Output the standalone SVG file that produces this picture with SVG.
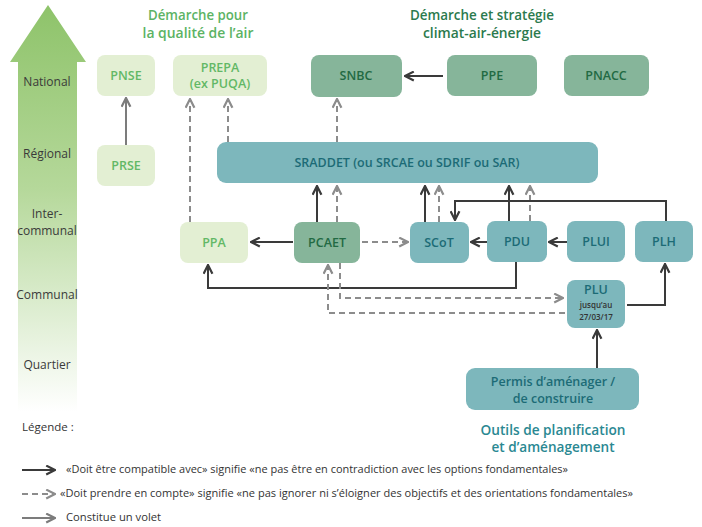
<svg xmlns="http://www.w3.org/2000/svg" width="702" height="527" viewBox="0 0 702 527">
<style>
text{font-family:"Open Sans","Liberation Sans",sans-serif;}
.lvl{font-size:12px;fill:#3a3a3a;text-anchor:middle;}
.hdr{font-size:13.5px;font-weight:600;text-anchor:middle;}
.lab{font-size:12.5px;font-weight:600;text-anchor:middle;}
.lg{fill:#e3efd3;}
.lgt{fill:#62b866;}
.dg{fill:#86b59a;}
.dgt{fill:#226a43;}
.tl{fill:#7db7bc;}
.tlt{fill:#1c6b76;}
.c{fill:none;stroke:#3a3a3a;stroke-width:2;marker-end:url(#ad);}
.d{fill:none;stroke:#8c8c8c;stroke-width:2;stroke-dasharray:6,4;marker-end:url(#ag);}
.v{fill:none;stroke:#7c7c7c;stroke-width:2;marker-end:url(#av);}
.leg{font-size:10.5px;fill:#333;}
</style>
<defs>
<linearGradient id="gr" x1="0" y1="0" x2="0" y2="1">
<stop offset="0" stop-color="#8ec36a"/>
<stop offset="0.45" stop-color="#b5d89a"/>
<stop offset="1" stop-color="#ffffff"/>
</linearGradient>
<marker id="ad" viewBox="0 0 10 10" refX="9" refY="5" markerWidth="11" markerHeight="11" markerUnits="userSpaceOnUse" orient="auto"><path d="M1,1 L9,5 L1,9" fill="none" stroke="#3a3a3a" stroke-width="2"/></marker>
<marker id="ag" viewBox="0 0 10 10" refX="9" refY="5" markerWidth="11" markerHeight="11" markerUnits="userSpaceOnUse" orient="auto"><path d="M1,1 L9,5 L1,9" fill="none" stroke="#8c8c8c" stroke-width="2"/></marker>
<marker id="av" viewBox="0 0 10 10" refX="9" refY="5" markerWidth="11" markerHeight="11" markerUnits="userSpaceOnUse" orient="auto"><path d="M1,1 L9,5 L1,9" fill="none" stroke="#7c7c7c" stroke-width="2"/></marker>
</defs>

<!-- level arrow -->
<g id="scale">
<path d="M48,5 L86,62 L77,62 L77,412 L18,412 L18,62 L10,62 Z" fill="url(#gr)"/>
<text class="lvl" x="47" y="86">National</text>
<text class="lvl" x="47" y="158">Régional</text>
<text class="lvl" x="47" y="218">Inter-</text>
<text class="lvl" x="47" y="235">communal</text>
<text class="lvl" x="47" y="299">Communal</text>
<text class="lvl" x="47" y="369">Quartier</text>
</g>

<g id="headers">
<text class="hdr" x="198" y="20" fill="#5cb364" textLength="100" lengthAdjust="spacingAndGlyphs">Démarche pour</text>
<text class="hdr" x="198" y="38" fill="#5cb364" textLength="111" lengthAdjust="spacingAndGlyphs">la qualité de l’air</text>
<text class="hdr" x="482" y="20" fill="#2b7a4d" textLength="144" lengthAdjust="spacingAndGlyphs">Démarche et stratégie</text>
<text class="hdr" x="482" y="38" fill="#2b7a4d" textLength="118" lengthAdjust="spacingAndGlyphs">climat-air-énergie</text>
</g>

<g id="connectors">
<path class="v" d="M126,145 V98"/>
<path class="c" d="M443,76 H405"/>
<path class="d" d="M228,142 V99"/>
<path class="d" d="M190,222 V99"/>
<path class="d" d="M337,142 V99"/>
<path class="c" d="M317,222 V186"/>
<path class="d" d="M337,222 V186"/>
<path class="c" d="M425,222 V186"/>
<path class="d" d="M439,222 V186"/>
<path class="c" d="M509,221 V186"/>
<path class="d" d="M530,221 V186"/>
<path class="c" d="M666,221 V201 H455 V220"/>
<path class="c" d="M293,242 H251"/>
<path class="d" d="M362,242 H408"/>
<path class="c" d="M487,242 H471"/>
<path class="c" d="M567,242 H549"/>
<path class="c" d="M516,262 V288 H208 V265"/>
<path class="d" d="M340,263 V298 H563"/>
<path class="d" d="M565,313 H328 V265"/>
<path class="c" d="M627,305 H665 V264"/>
<path class="c" d="M597,368 V330"/>
</g>

<g id="PNSE"><rect class="lg" x="97" y="55" width="58" height="41" rx="8"/><text class="lab lgt" x="126" y="80">PNSE</text></g>
<g id="PRSE"><rect class="lg" x="97" y="145" width="58" height="41" rx="8"/><text class="lab lgt" x="126" y="170">PRSE</text></g>
<g id="PREPA"><rect class="lg" x="173" y="55" width="94" height="41" rx="8"/><text class="lab lgt" x="220" y="72">PREPA</text><text class="lab lgt" x="220" y="88">(ex PUQA)</text></g>
<g id="SNBC"><rect class="dg" x="311" y="55" width="91" height="42" rx="8"/><text class="lab dgt" x="356" y="80">SNBC</text></g>
<g id="PPE"><rect class="dg" x="447" y="55" width="90" height="41" rx="8"/><text class="lab dgt" x="492" y="80">PPE</text></g>
<g id="PNACC"><rect class="dg" x="564" y="55" width="85" height="41" rx="8"/><text class="lab dgt" x="606" y="80">PNACC</text></g>
<g id="SRADDET"><rect class="tl" x="217" y="142" width="381" height="41" rx="9"/><text class="lab tlt" x="407" y="167" textLength="225" lengthAdjust="spacingAndGlyphs">SRADDET (ou SRCAE ou SDRIF ou SAR)</text></g>
<g id="PPA"><rect class="lg" x="180" y="222" width="68" height="41" rx="8"/><text class="lab lgt" x="214" y="247">PPA</text></g>
<g id="PCAET"><rect class="dg" x="294" y="222" width="66" height="41" rx="8"/><text class="lab dgt" x="327" y="247">PCAET</text></g>
<g id="SCoT"><rect class="tl" x="410" y="222" width="59" height="41" rx="8"/><text class="lab tlt" x="439" y="247">SCoT</text></g>
<g id="PDU"><rect class="tl" x="487" y="221" width="60" height="41" rx="8"/><text class="lab tlt" x="517" y="246">PDU</text></g>
<g id="PLUI"><rect class="tl" x="567" y="221" width="58" height="41" rx="8"/><text class="lab tlt" x="596" y="246">PLUI</text></g>
<g id="PLH"><rect class="tl" x="635" y="221" width="58" height="41" rx="8"/><text class="lab tlt" x="664" y="246">PLH</text></g>
<g id="PLU"><rect class="tl" x="567" y="280" width="58" height="48" rx="8"/><text class="lab tlt" x="596" y="294">PLU</text><text x="596" y="308" font-size="8" font-weight="600" fill="#333" text-anchor="middle">jusqu’au</text><text x="596" y="320" font-size="8" font-weight="600" fill="#333" text-anchor="middle">27/03/17</text></g>
<g id="Permis"><rect class="tl" x="466" y="368" width="173" height="42" rx="9"/><text class="lab tlt" x="553" y="386">Permis d’aménager /</text><text class="lab tlt" x="553" y="403">de construire</text></g>

<g id="outils">
<text class="hdr" x="553" y="435" font-size="14.5" fill="#2a8892" textLength="145" lengthAdjust="spacingAndGlyphs">Outils de planification</text>
<text class="hdr" x="553" y="452" font-size="14.5" fill="#2a8892" textLength="123" lengthAdjust="spacingAndGlyphs">et d’aménagement</text>
</g>

<g id="legend">
<text x="22" y="431" font-size="11.5" fill="#333">Légende :</text>
<path d="M22,470 H55" fill="none" stroke="#3a3a3a" stroke-width="2" marker-end="url(#ad)"/>
<text class="leg" x="66" y="473" textLength="502" lengthAdjust="spacingAndGlyphs">«Doit être compatible avec» signifie «ne pas être en contradiction avec les options fondamentales»</text>
<path d="M22,494 H55" fill="none" stroke="#8c8c8c" stroke-width="2" stroke-dasharray="6,4" marker-end="url(#ag)"/>
<text class="leg" x="60" y="497" textLength="573" lengthAdjust="spacingAndGlyphs">«Doit prendre en compte» signifie «ne pas ignorer ni s’éloigner des objectifs et des orientations fondamentales»</text>
<path d="M22,518 H55" fill="none" stroke="#7c7c7c" stroke-width="2" marker-end="url(#av)"/>
<text class="leg" x="66" y="521" textLength="95" lengthAdjust="spacingAndGlyphs">Constitue un volet</text>
</g>
</svg>
